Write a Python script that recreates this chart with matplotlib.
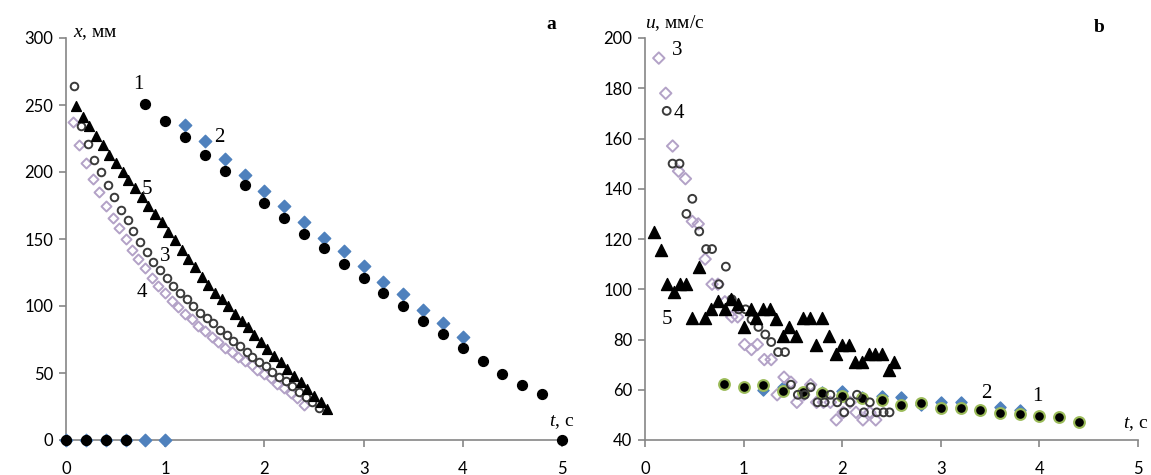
import numpy as np
import matplotlib
matplotlib.use('Agg')
import matplotlib.pyplot as plt

plt.rcParams['mathtext.fontset'] = 'custom'
plt.rcParams['mathtext.it'] = 'Liberation Serif:italic'
plt.rcParams['mathtext.rm'] = 'Liberation Serif'

# ---- panel a : x(t), мм ----
t1a = [0.0, 0.2, 0.4, 0.6, 0.8, 1.0, 1.2, 1.4, 1.6, 1.8, 2.0, 2.2, 2.4, 2.6, 2.8, 3.0, 3.2,
       3.4, 3.6, 3.8, 4.0, 4.2, 4.4, 4.6, 4.8, 5.0]
x1a = [0, 0, 0, 0, 251, 238, 226, 213, 201, 190, 177, 166, 154, 143, 131, 121, 110,
       100, 89, 79, 69, 59, 49, 41, 34, 0]

t2a = [0.0, 0.2, 0.4, 0.6, 0.8, 1.0, 1.2, 1.4, 1.6, 1.8, 2.0, 2.2, 2.4, 2.6, 2.8, 3.0, 3.2,
       3.4, 3.6, 3.8, 4.0]
x2a = [0, 0, 0, 0, 0, 0, 235, 223, 210, 198, 186, 175, 163, 151, 141, 130, 118,
       109, 97, 87, 77]

t3a = [0.08, 0.15, 0.22, 0.28, 0.35, 0.42, 0.48, 0.55, 0.62, 0.68, 0.75, 0.82, 0.88, 0.95,
       1.02, 1.08, 1.15, 1.22, 1.28, 1.35, 1.42, 1.48, 1.55, 1.62, 1.68, 1.75, 1.82, 1.88,
       1.95, 2.02, 2.08, 2.15, 2.22, 2.28, 2.35, 2.42, 2.48, 2.55]
x3a = [264, 234, 221, 209, 200, 190, 181, 172, 164, 156, 148, 140, 133, 127,
       121, 115, 110, 105, 100, 95, 91, 87, 82, 78, 74, 70, 66, 62,
       58, 55, 51, 47, 44, 40, 36, 32, 28, 24]

t4a = [0.07, 0.13, 0.20, 0.27, 0.33, 0.40, 0.47, 0.53, 0.60, 0.67, 0.73, 0.80, 0.87, 0.93,
       1.00, 1.07, 1.13, 1.20, 1.27, 1.33, 1.40, 1.47, 1.53, 1.60, 1.67, 1.73, 1.80, 1.87,
       1.93, 2.00, 2.07, 2.13, 2.20, 2.27, 2.33, 2.40]
x4a = [237, 220, 207, 195, 185, 175, 166, 158, 150, 142, 135, 128, 121, 115,
       110, 104, 99, 94, 90, 85, 81, 77, 73, 69, 66, 62, 59, 56,
       52, 49, 46, 42, 39, 35, 31, 26]

t5a = [0.10, 0.17, 0.23, 0.30, 0.37, 0.43, 0.50, 0.57, 0.63, 0.70, 0.77, 0.83, 0.90, 0.97,
       1.03, 1.10, 1.17, 1.23, 1.30, 1.37, 1.43, 1.50, 1.57, 1.63, 1.70, 1.77, 1.83, 1.90,
       1.97, 2.03, 2.10, 2.17, 2.23, 2.30, 2.37, 2.43, 2.50, 2.57, 2.63]
x5a = [249, 241, 234, 227, 220, 213, 207, 200, 194, 188, 181, 175, 169, 163,
       155, 149, 142, 135, 129, 122, 116, 110, 105, 100, 94, 89, 84, 78,
       73, 68, 63, 58, 53, 48, 43, 38, 33, 28, 23]

# ---- panel b : u(t), мм/с ----
t1b = [0.8, 1.0, 1.2, 1.4, 1.6, 1.8, 2.0, 2.2, 2.4, 2.6, 2.8, 3.0, 3.2, 3.4, 3.6, 3.8,
       4.0, 4.2, 4.4]
u1b = [62.3, 61.2, 61.9, 59.6, 59.0, 58.6, 57.7, 56.9, 55.9, 53.9, 54.6, 52.6, 52.6, 52.0,
       50.9, 50.4, 49.6, 49.3, 47.3]

t2b = [1.2, 1.4, 1.6, 1.8, 2.0, 2.2, 2.4, 2.6, 2.8, 3.0, 3.2, 3.4, 3.6, 3.8]
u2b = [60.0, 61.0, 58.5, 59.0, 59.6, 57.0, 57.5, 57.0, 54.0, 55.0, 55.0, 52.0, 53.0, 52.0]

t3b = [0.22, 0.28, 0.35, 0.42, 0.48, 0.55, 0.62, 0.68, 0.75, 0.82, 0.88, 0.95, 1.02, 1.08,
       1.15, 1.22, 1.28, 1.35, 1.42, 1.48, 1.55, 1.62, 1.68, 1.75, 1.82, 1.88, 1.95, 2.02,
       2.08, 2.15, 2.22, 2.28, 2.35, 2.42, 2.48]
u3b = [171, 150, 150, 130, 136, 123, 116, 116, 102, 109, 96, 92, 92, 88,
       85, 82, 79, 75, 75, 62, 58, 58, 61, 55, 55, 58, 55, 51,
       55, 58, 51, 55, 51, 51, 51]

t4b = [0.14, 0.21, 0.28, 0.34, 0.41, 0.48, 0.54, 0.61, 0.68, 0.74, 0.81, 0.88, 0.94, 1.01,
       1.08, 1.14, 1.21, 1.28, 1.34, 1.41, 1.48, 1.54, 1.61, 1.68, 1.74, 1.81, 1.88, 1.94,
       2.01, 2.08, 2.14, 2.21, 2.28, 2.34]
u4b = [192, 178, 157, 147, 144, 127, 126, 112, 102, 102, 95, 89, 89, 78,
       76, 78, 72, 72, 58, 65, 63, 55, 58, 62, 55, 55, 55, 48,
       51, 55, 51, 48, 51, 48]

t5b = [0.09, 0.16, 0.22, 0.29, 0.35, 0.42, 0.48, 0.55, 0.61, 0.67, 0.74, 0.81, 0.87, 0.94,
       1.00, 1.07, 1.13, 1.20, 1.27, 1.33, 1.40, 1.46, 1.53, 1.60, 1.67, 1.73, 1.80, 1.87,
       1.94, 2.00, 2.07, 2.13, 2.20, 2.27, 2.33, 2.40, 2.47, 2.53]
u5b = [122.7, 115.7, 102, 99, 102, 102, 88.7, 109, 88.7, 92, 95.3, 92, 96, 94,
       85, 92, 88.7, 92, 92, 88.3, 81.3, 85, 81.3, 88.7, 88.7, 78, 88.7, 81.3,
       74.4, 78, 78, 71, 71, 74.4, 74.4, 74.4, 67.8, 71]

BLUE = '#4F81BD'
LILAC = '#B3A2C7'
GREEN = '#9BBB59'
AXC = '#868686'
serif = 'Liberation Serif'

fig = plt.figure(figsize=(11.51, 4.75), dpi=100)
axa = fig.add_axes([66 / 1151, 35 / 475, 496 / 1151, 402 / 475])
axb = fig.add_axes([645 / 1151, 35 / 475, 493 / 1151, 402 / 475])


def style(ax, ylim, yticks):
    ax.set_xlim(0, 5)
    ax.set_ylim(*ylim)
    ax.set_xticks(range(6))
    ax.set_yticks(yticks)
    for s in ['top', 'right']:
        ax.spines[s].set_visible(False)
    for s in ['left', 'bottom']:
        ax.spines[s].set_color(AXC)
        ax.spines[s].set_linewidth(1.2)
    ax.tick_params(colors=AXC, length=5, width=1.2, labelcolor='black',
                   labelsize=12, pad=4)
    for lab in ax.get_xticklabels() + ax.get_yticklabels():
        lab.set_fontfamily('Lato')
    ax.patch.set_alpha(0)


style(axa, (0, 300), range(0, 301, 50))
style(axb, (40, 200), range(40, 201, 20))
axa.tick_params(axis='x', pad=10)
axb.tick_params(axis='x', pad=10)

# panel a
axa.scatter(t2a, x2a, marker='D', s=40, color=BLUE, zorder=3, clip_on=False)
axa.scatter(t1a, x1a, marker='o', s=50, color='black', zorder=4, clip_on=False)
axa.scatter(t4a, x4a, marker='D', s=26, facecolor='white', edgecolor=LILAC, linewidth=1.4,
            zorder=3, clip_on=False)
axa.scatter(t3a, x3a, marker='o', s=30, facecolor='white', edgecolor='#3a3a3a', linewidth=1.4,
            zorder=4, clip_on=False)
axa.scatter(t5a, x5a, marker='^', s=50, color='black', zorder=5, clip_on=False)

fs = 15
axa.text(0.73, 265, '1', fontsize=fs, family=serif, ha='center', va='center')
axa.text(1.55, 226, '2', fontsize=fs, family=serif, ha='center', va='center')
axa.text(1.0, 137, '3', fontsize=fs, family=serif, ha='center', va='center')
axa.text(0.76, 110, '4', fontsize=fs, family=serif, ha='center', va='center')
axa.text(0.82, 187, '5', fontsize=fs, family=serif, ha='center', va='center')
axa.text(0.07, 303, '$x$, мм', fontsize=14, family=serif, ha='left', va='center')
axa.text(4.89, 310, 'a', fontsize=14, family=serif, weight='bold', ha='center', va='center')
axa.text(4.87, 13, '$t$, с', fontsize=14, family=serif, ha='left', va='center', clip_on=False)

# panel b
axb.scatter(t2b, u2b, marker='D', s=32, color=BLUE, zorder=3, clip_on=False)
axb.scatter(t1b, u1b, marker='o', s=60, color='black', edgecolor=GREEN, linewidth=1.5,
            zorder=4, clip_on=False)
axb.scatter(t4b, u4b, marker='D', s=34, facecolor='none', edgecolor=LILAC, linewidth=1.4,
            zorder=3, clip_on=False)
axb.scatter(t3b, u3b, marker='o', s=32, facecolor='none', edgecolor='#3a3a3a', linewidth=1.4,
            zorder=4, clip_on=False)
axb.scatter(t5b, u5b, marker='^', s=75, color='black', zorder=5, clip_on=False)

axb.text(0.33, 195, '3', fontsize=fs, family=serif, ha='center', va='center')
axb.text(0.34, 170, '4', fontsize=fs, family=serif, ha='center', va='center')
axb.text(0.22, 88, '5', fontsize=fs, family=serif, ha='center', va='center')
axb.text(3.46, 58.5, '2', fontsize=fs, family=serif, ha='center', va='center')
axb.text(3.98, 57.2, '1', fontsize=fs, family=serif, ha='center', va='center')
axb.text(0.0, 206, '$u$, мм/с', fontsize=14, family=serif, ha='left', va='center',
         clip_on=False)
axb.text(4.61, 204, 'b', fontsize=14, family=serif, weight='bold', ha='center', va='center',
         clip_on=False)
axb.text(4.85, 46.5, '$t$, с', fontsize=14, family=serif, ha='left', va='center',
         clip_on=False)

fig.savefig('out.png', dpi=100)
